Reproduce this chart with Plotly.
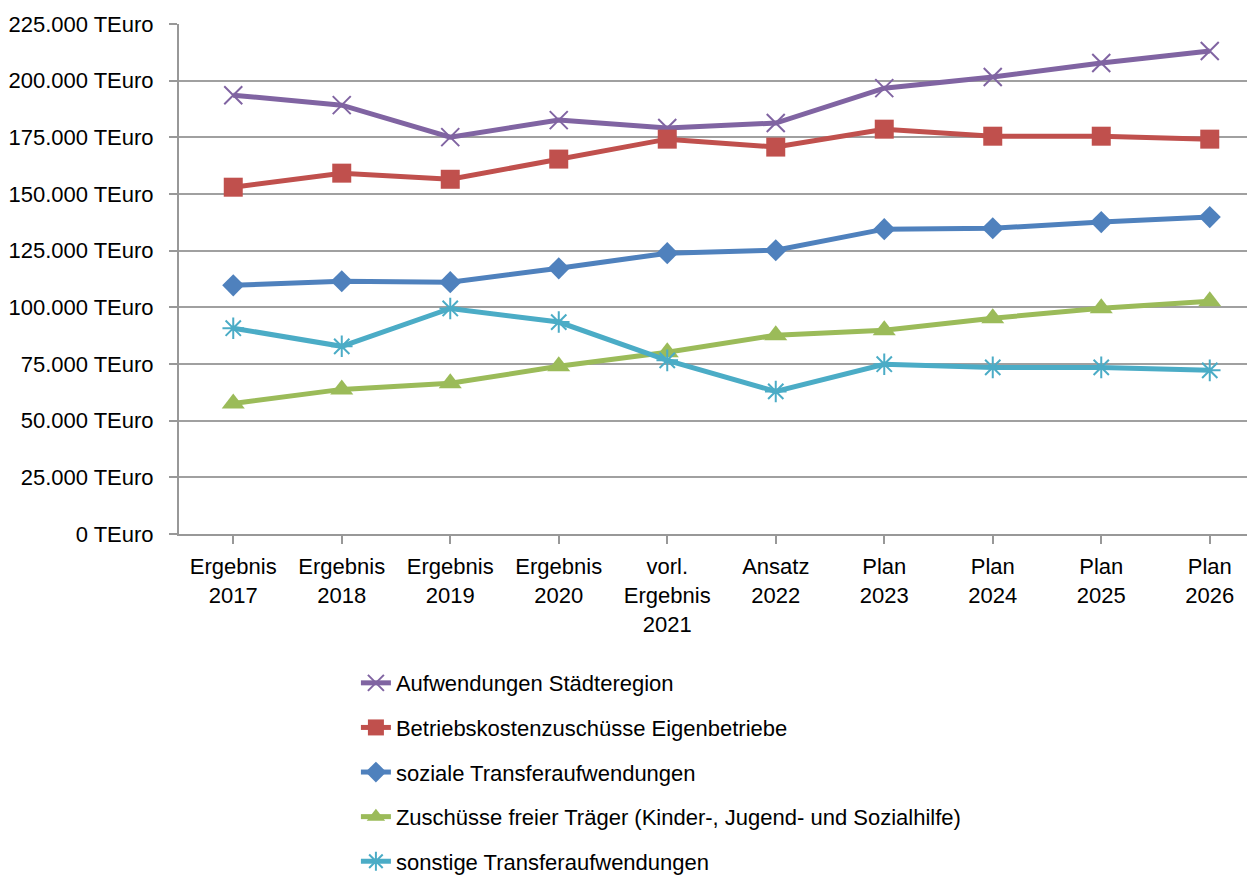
import plotly.graph_objects as go

categories = ["Ergebnis<br>2017", "Ergebnis<br>2018", "Ergebnis<br>2019", "Ergebnis<br>2020",
              "vorl.<br>Ergebnis<br>2021", "Ansatz<br>2022", "Plan<br>2023", "Plan<br>2024",
              "Plan<br>2025", "Plan<br>2026"]

aufwendungen = [193.6, 189.2, 175.1, 182.6, 179.1, 181.3, 196.7, 201.6, 207.8, 213.1]
betriebskosten = [153.0, 159.2, 156.5, 165.4, 174.2, 170.7, 178.6, 175.5, 175.5, 174.2]
soziale = [109.7, 111.5, 111.1, 117.2, 123.9, 125.2, 134.5, 134.9, 137.6, 139.8]
zuschuesse = [57.6, 63.8, 66.5, 74.0, 80.2, 87.7, 89.9, 95.2, 99.6, 102.7]
sonstige = [90.8, 82.8, 99.5, 93.5, 76.6, 62.9, 74.9, 73.5, 73.5, 72.2]

tick_vals = [0, 25000, 50000, 75000, 100000, 125000, 150000, 175000, 200000, 225000]
tick_text = ["0 TEuro", "25.000 TEuro", "50.000 TEuro", "75.000 TEuro", "100.000 TEuro",
             "125.000 TEuro", "150.000 TEuro", "175.000 TEuro", "200.000 TEuro", "225.000 TEuro"]

series = [
    ("Aufwendungen Städteregion", aufwendungen, "#8064A2", "x-thin", 18),
    ("Betriebskostenzuschüsse Eigenbetriebe", betriebskosten, "#C0504D", "square", 19),
    ("soziale Transferaufwendungen", soziale, "#4F81BD", "diamond", 17),
    ("Zuschüsse freier Träger (Kinder-, Jugend- und Sozialhilfe)", zuschuesse, "#9BBB59", "triangle-up", 20),
    ("sonstige Transferaufwendungen", sonstige, "#4BACC6", "asterisk", 18),
]

fig = go.Figure()
for i, (name, vals, color, sym, size) in enumerate(series):
    thin = sym in ("x-thin", "asterisk")
    fig.add_trace(go.Scatter(
        x=list(range(len(categories))),
        y=[v * 1000 for v in vals],
        name=name,
        legendgroup=str(i),
        mode="lines+markers",
        line=dict(color=color, width=5),
        marker=dict(symbol=sym, size=size, color=color,
                    line=dict(color=color, width=2 if thin else 0)),
    ))

fig.update_layout(
    width=1247, height=868,
    margin=dict(l=171, r=0, t=16, b=342, autoexpand=False),
    paper_bgcolor="white", plot_bgcolor="white",
    font=dict(family="Liberation Sans, Arial, sans-serif", size=22, color="black"),
    showlegend=True,
    legend=dict(xref="container", yref="container", x=0.279, y=0.2465,
                xanchor="left", yanchor="top", tracegroupgap=13,
                font=dict(size=22), bgcolor="rgba(0,0,0,0)"),
)
fig.update_xaxes(
    tickmode="array", tickvals=list(range(len(categories))), ticktext=categories,
    range=[-0.5, 9.417], showgrid=False, showline=True, linecolor="#989898", linewidth=2,
    ticks="outside", ticklen=8, tickcolor="#989898", tickwidth=2, ticklabelstandoff=4,
    zeroline=False, tickangle=0, automargin=False,
)
fig.update_yaxes(
    tickmode="array", tickvals=tick_vals, ticktext=tick_text, range=[0, 225000],
    showgrid=True, gridcolor="#A0A0A0", gridwidth=2,
    showline=True, linecolor="#989898", linewidth=2,
    ticks="outside", ticklen=8, tickcolor="#989898", tickwidth=2, ticklabelstandoff=11,
    zeroline=False, automargin=False,
)

fig.write_html("out.html")
